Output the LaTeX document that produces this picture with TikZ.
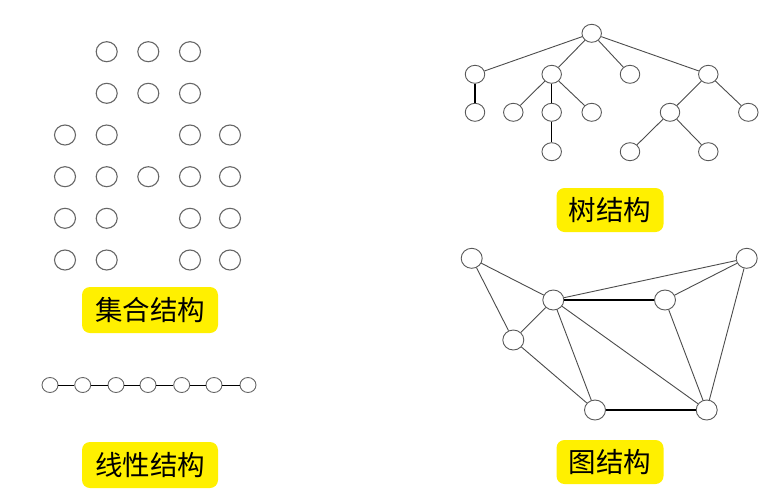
\documentclass[tikz,border=0pt]{standalone}
\usetikzlibrary{shapes.geometric}
\usepackage{fontspec}
\newfontfamily\cjk{Noto Sans CJK SC}
\definecolor{tagyellow}{HTML}{FFF000}
\begin{document}
\begin{tikzpicture}[x=1pt,y=-1pt,
  dot/.style={draw=black!60,line width=1.1pt,ellipse,minimum width=21pt,minimum height=20pt,inner sep=0pt},
  lin/.style={draw=black!60,line width=0.9pt,ellipse,minimum width=16pt,minimum height=15pt,inner sep=0pt},
  tnode/.style={draw=black!65,line width=0.9pt,ellipse,minimum width=19.5pt,minimum height=18pt,inner sep=0pt},
  gnode/.style={draw=black!65,line width=0.9pt,ellipse,minimum width=21pt,minimum height=20pt,inner sep=0pt},
  edge/.style={draw=black!70,line width=0.9pt},
  bold/.style={draw=black,line width=1.1pt},
  tag/.style={fill=tagyellow,rounded corners=8pt,minimum width=136pt,minimum height=46pt,inner sep=0pt,font=\cjk\fontsize{27.5}{27.5}\selectfont,text=black},
  tag3/.style={tag,minimum width=107pt,minimum height=44pt}]
\useasboundingbox[fill=white] (0,0) rectangle (779,493);
% set structure
\foreach \r/\y in {1/51.7,2/93.3} \foreach \c/\x in {2/106.7,3/148.3,4/190}
  \node[dot] (s\r\c) at (\x,\y) {};
\foreach \r/\y in {3/135,5/218.3,6/260} \foreach \c/\x in {1/65,2/106.7,4/190,5/230}
  \node[dot] (s\r\c) at (\x,\y) {};
\foreach \c/\x in {1/65,2/106.7,3/148.3,4/190,5/230}
  \node[dot] (s4\c) at (\x,176.7) {};
\node[tag] (tset) at (150,310) {集合结构};
% linear structure
\foreach \i/\x in {1/50,2/82.7,3/116,4/148,5/181.7,6/214,7/248}
  \node[lin] (l\i) at (\x,385) {};
\foreach \i/\j in {1/2,2/3,3/4,4/5,5/6,6/7}
  \draw[bold,line width=0.9pt] (l\i) -- (l\j);
\node[tag] (tlin) at (150,465) {线性结构};
% tree structure
\node[tnode] (r) at (591.7,33.3) {};
\node[tnode] (a) at (475,74.3) {};
\node[tnode] (b) at (551.7,74.3) {};
\node[tnode] (c) at (630,74.3) {};
\node[tnode] (d) at (708.3,74.3) {};
\node[tnode] (a1) at (475,112.3) {};
\node[tnode] (b1) at (513.3,112.3) {};
\node[tnode] (b2) at (551.7,112.3) {};
\node[tnode] (b3) at (591.7,112.3) {};
\node[tnode] (d1) at (670,112.3) {};
\node[tnode] (d2) at (748.3,112.3) {};
\node[tnode] (b21) at (551.7,151.7) {};
\node[tnode] (d11) at (630,151.7) {};
\node[tnode] (d12) at (708.3,151.7) {};
\draw[edge] (r) -- (a);
\draw[edge] (r) -- (b);
\draw[edge] (r) -- (c);
\draw[edge] (r) -- (d);
\draw[bold] (a) -- (a1);
\draw[edge] (b) -- (b1);
\draw[bold] (b) -- (b2);
\draw[edge] (b) -- (b3);
\draw[bold] (b2) -- (b21);
\draw[edge] (d) -- (d1);
\draw[edge] (d) -- (d2);
\draw[edge] (d1) -- (d11);
\draw[edge] (d1) -- (d12);
\node[tag3] (ttree) at (610,210) {树结构};
% graph structure
\node[gnode] (A) at (471.7,258.3) {};
\node[gnode] (B) at (553.3,300) {};
\node[gnode] (C) at (513.3,340) {};
\node[gnode] (D) at (665,300) {};
\node[gnode] (E) at (746.7,258.3) {};
\node[gnode] (F) at (595,410) {};
\node[gnode] (G) at (706.7,410) {};
\draw[edge] (A) -- (B);
\draw[edge] (A) -- (C);
\draw[edge] (C) -- (B);
\draw[edge] (C) -- (F);
\draw[edge] (B) -- (F);
\draw[edge] (B) -- (G);
\draw[bold] (B) -- (D);
\draw[edge] (B) -- (E);
\draw[edge] (D) -- (E);
\draw[edge] (D) -- (G);
\draw[edge] (E) -- (G);
\draw[bold] (F) -- (G);
\node[tag3] (tgraph) at (610,462) {图结构};
\end{tikzpicture}
\end{document}
